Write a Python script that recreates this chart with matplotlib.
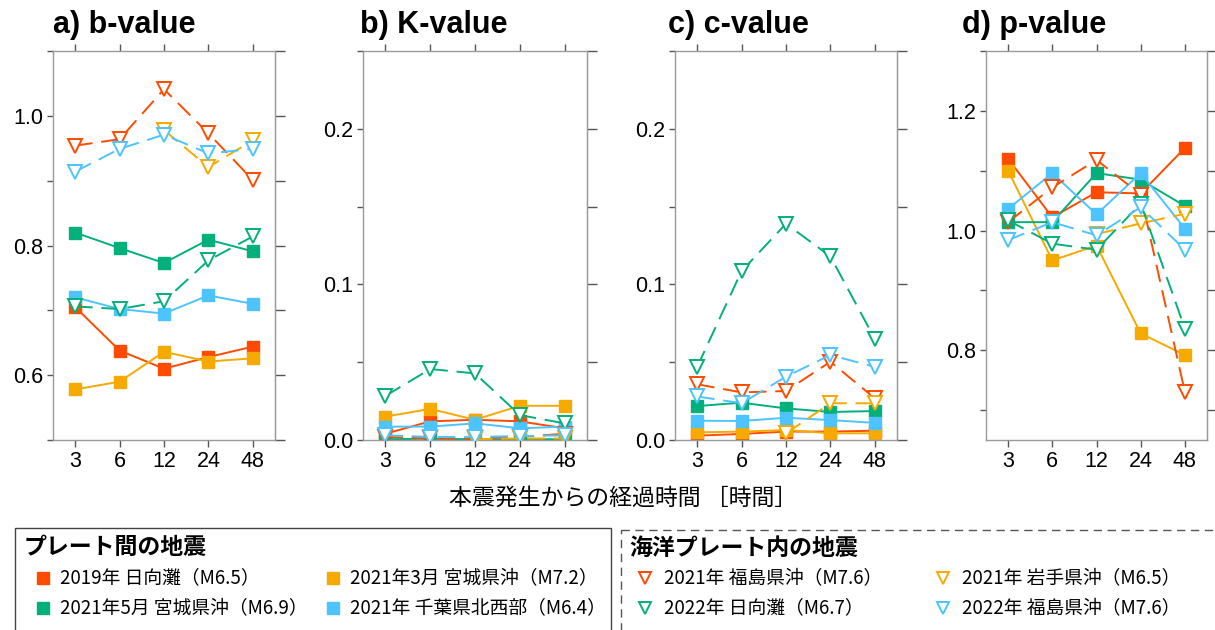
import numpy as np
import matplotlib
matplotlib.use('Agg')
import matplotlib.pyplot as plt
from matplotlib.patches import Rectangle
from matplotlib.ticker import MultipleLocator, FormatStrFormatter

nan = np.nan

# elapsed time after the mainshock [hours]
hours = ['3', '6', '12', '24', '48']

# interplate events (filled squares, solid) and intraslab events (open triangles, dashed)
inter_events = ['2019年 日向灘（M6.5）', '2021年3月 宮城県沖（M7.2）',
                '2021年5月 宮城県沖（M6.9）', '2021年 千葉県北西部（M6.4）']
intra_events = ['2021年 福島県沖（M7.6）', '2021年 岩手県沖（M6.5）',
                '2022年 日向灘（M6.7）', '2022年 福島県沖（M7.6）']
event_colors = ['#FF4B00', '#F6AA00', '#03AF7A', '#4DC4FF']

# rows follow the event lists above
bval_inter = [[0.705, 0.638, 0.610, 0.628, 0.644],
              [0.578, 0.590, 0.636, 0.621, 0.626],
              [0.820, 0.796, 0.773, 0.809, 0.791],
              [0.720, 0.702, 0.695, 0.723, 0.710]]
bval_intra = [[0.954, 0.964, 1.041, 0.973, 0.901],
              [nan, nan, 0.978, 0.921, 0.962],
              [0.706, 0.702, 0.714, 0.777, 0.814],
              [0.914, 0.949, 0.971, 0.942, 0.949]]

kval_inter = [[0.004, 0.012, 0.013, 0.012, 0.0075],
              [0.015, 0.020, 0.013, 0.022, 0.022],
              [0.0005, 0.0008, 0.0005, 0.0005, 0.0005],
              [0.0086, 0.0086, 0.0107, 0.0075, 0.0086]]
kval_intra = [[0.002, 0.001, 0.001, 0.002, 0.004],
              [nan, nan, 0.0005, 0.001, 0.001],
              [0.0283, 0.0456, 0.0428, 0.016, 0.0107],
              [0.003, 0.002, 0.002, 0.0025, 0.003]]

cval_inter = [[0.0028, 0.0039, 0.0054, 0.0054, 0.006],
              [0.0049, 0.0054, 0.0064, 0.0043, 0.0043],
              [0.0218, 0.024, 0.0203, 0.018, 0.0186],
              [0.0124, 0.0122, 0.0143, 0.0128, 0.011]]
cval_intra = [[0.0358, 0.0306, 0.0315, 0.0503, 0.0268],
              [nan, nan, 0.0043, 0.0236, 0.0236],
              [0.047, 0.1086, 0.139, 0.118, 0.065],
              [0.028, 0.0236, 0.0407, 0.0546, 0.047]]

pval_inter = [[1.120, 1.022, 1.064, 1.062, 1.138],
              [1.100, 0.950, 0.975, 0.828, 0.792],
              [1.014, 1.014, 1.096, 1.085, 1.041],
              [1.036, 1.096, 1.027, 1.096, 1.003]]
pval_intra = [[1.014, 1.072, 1.118, 1.060, 0.730],
              [nan, nan, 0.994, 1.012, 1.028],
              [1.017, 0.978, 0.968, 1.045, 0.836],
              [0.984, 1.014, 0.992, 1.039, 0.968]]

panel_titles = ['a) b-value', 'b) K-value', 'c) c-value', 'd) p-value']
xlabel_text = '本震発生からの経過時間 ［時間］'
inter_title = 'プレート間の地震'
intra_title = '海洋プレート内の地震'

plt.rcParams['font.family'] = ['Liberation Sans', 'Noto Sans CJK JP']
JP = ['Noto Sans CJK JP', 'DejaVu Sans']

W, H = 1215., 630.
spine_col = '#9a9a9a'
tick_col = '#555555'


def fx(px):
	return px / W


def fy(py):
	return 1. - py / H


def draw_panel(ax, inter, intra, ylim, major, minor):
	for vals, col in zip(inter, event_colors):
		ax.plot(hours, vals, color=col, linestyle='-', linewidth=1.4,
				marker='s', markersize=8.5, markerfacecolor=col, markeredgecolor=col, zorder=2)
	for vals, col in zip(intra, event_colors):
		ax.plot(hours, vals, color=col, linestyle=(0, (9, 4.5)), linewidth=1.4,
				marker='v', markersize=9.5, markerfacecolor='white', markeredgecolor=col,
				markeredgewidth=1.4, zorder=3)

	ax.set_xlim(-0.5, 4.5)
	ax.set_ylim(*ylim)
	ax.yaxis.set_major_locator(MultipleLocator(major))
	ax.yaxis.set_minor_locator(MultipleLocator(minor))
	ax.yaxis.set_major_formatter(FormatStrFormatter('%.1f'))

	for s in ax.spines.values():
		s.set_color(spine_col)
		s.set_linewidth(1.0)
	ax.tick_params(axis='both', which='both', direction='out', color=tick_col,
				   width=1.0, length=4, labelsize=15.5, pad=3)
	ax.tick_params(axis='x', top=True, length=5)

	# longer ticks on the right hand side, no labels
	sec = ax.secondary_yaxis('right')
	sec.yaxis.set_major_locator(MultipleLocator(minor))
	sec.tick_params(direction='out', color=tick_col, width=1.0, length=7, labelright=False)
	sec.spines['right'].set_color(spine_col)


fig = plt.figure(figsize=(12.15, 6.3), dpi=100)

# axes boxes in pixels: left, right
boxes = [(53, 275), (363, 587), (675, 897), (986, 1207)]
top_px, bot_px = 51, 440
axs = []
for (l, r) in boxes:
	axs.append(fig.add_axes([fx(l), fy(bot_px), (r - l) / W, (bot_px - top_px) / H]))

draw_panel(axs[0], bval_inter, bval_intra, (0.5, 1.1), 0.2, 0.1)
draw_panel(axs[1], kval_inter, kval_intra, (0.0, 0.25), 0.1, 0.05)
draw_panel(axs[2], cval_inter, cval_intra, (0.0, 0.25), 0.1, 0.05)
draw_panel(axs[3], pval_inter, pval_intra, (0.65, 1.3), 0.2, 0.1)

# panel titles
for title, px in zip(panel_titles, [53, 360, 668, 962]):
	fig.text(fx(px), fy(33), title, fontsize=22, fontweight='bold', ha='left', va='baseline')

fig.text(fx(623), fy(498), xlabel_text, family=JP, fontsize=16.5, ha='center', va='center')

# legend boxes, drawn in pixel coordinates on an overlay axes
lax = fig.add_axes([0, 0, 1, 1])
lax.set_xlim(0, W)
lax.set_ylim(H, 0)
lax.axis('off')
lax.add_patch(Rectangle((15, 528), 596, 120, fill=False, edgecolor='#444444', linewidth=1.0))
lax.add_patch(Rectangle((621, 530), 620, 120, fill=False, edgecolor='#555555', linewidth=1.0,
						linestyle=(0, (6, 4))))

lax.text(24, 547, inter_title, family=JP, fontsize=16.5, fontweight='bold', ha='left', va='center')
lax.text(629, 548, intra_title, family=JP, fontsize=16.5, fontweight='bold', ha='left', va='center')

# entries fill the columns top to bottom
col_x_inter = [43, 333]
col_x_intra = [645, 943]
row_y = [578, 608]
for i, (name, col) in enumerate(zip(inter_events, event_colors)):
	cx = col_x_inter[i % 2]
	cy = row_y[i // 2]
	lax.plot([cx], [cy], marker='s', markersize=8.5, color=col, linestyle='none')
	lax.text(cx + 17, cy, name, family=JP, fontsize=13.5, ha='left', va='center')
for i, (name, col) in enumerate(zip(intra_events, event_colors)):
	cx = col_x_intra[i % 2]
	cy = row_y[i // 2]
	lax.plot([cx], [cy], marker='v', markersize=9, markerfacecolor='white',
			 markeredgecolor=col, markeredgewidth=1.4, linestyle='none')
	lax.text(cx + 19, cy, name, family=JP, fontsize=13.5, ha='left', va='center')

plt.savefig('out.png', dpi=100)
